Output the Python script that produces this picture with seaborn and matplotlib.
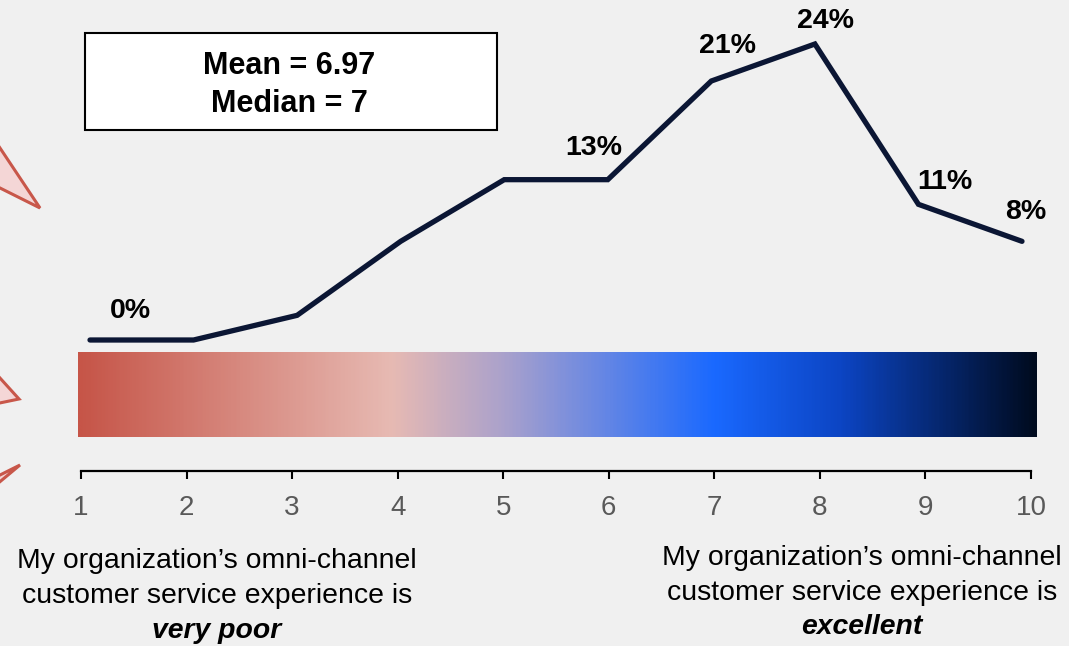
import numpy as np
import matplotlib
matplotlib.use("Agg")
import matplotlib.pyplot as plt
from matplotlib.colors import LinearSegmentedColormap
from matplotlib.patches import Polygon, Rectangle
import seaborn as sns

# Survey distribution: share of respondents per rating (1-10)
scores = [1, 2, 3, 4, 5, 6, 7, 8, 9, 10]
shares = [0, 0, 2, 8, 13, 13, 21, 24, 11, 8]
labelled_scores = [1, 6, 7, 8, 9, 10]
mean_value = 6.97
median_value = 7
tick_labels = [str(s) for s in scores]
low_caption = ["My organization\u2019s omni-channel", "customer service experience is", "very poor"]
high_caption = ["My organization\u2019s omni-channel", "customer service experience is", "excellent"]

sns.set_theme(style="white")
plt.rcParams["font.family"] = ["Liberation Sans", "DejaVu Sans"]
plt.rcParams["text.color"] = "black"

BG = "#F0F0F0"
LINE = "#0B1634"
W, H = 1069, 646

fig = plt.figure(figsize=(W / 100, H / 100), dpi=100, facecolor=BG)


def px_rect(left, top, right, bottom):
    return [left / W, 1 - bottom / H, (right - left) / W, (bottom - top) / H]


# ---- distribution line ----
ax_line = fig.add_axes(px_rect(90, 44, 1022, 340))
ax_line.set_facecolor("none")
sns.lineplot(x=scores, y=shares, ax=ax_line, color=LINE, linewidth=3.8,
             solid_capstyle="round", solid_joinstyle="miter", clip_on=False)
ax_line.set_xlim(1, 10)
ax_line.set_ylim(0, 24)
ax_line.axis("off")

# label offsets (points) relative to each labelled point
label_offsets = {1: (29, 16), 6: (-10, 18), 7: (11.5, 20), 8: (8, 11.5), 9: (19, 11), 10: (3, 16)}
for s in labelled_scores:
    v = shares[scores.index(s)]
    dx, dy = label_offsets[s]
    ax_line.annotate(f"{v}%", (s, v), xytext=(dx, dy), textcoords="offset points",
                     ha="center", va="baseline", fontsize=20.5, fontweight="bold",
                     color="black", annotation_clip=False)

# ---- rating scale with gradient bar ----
ax_scale = fig.add_axes(px_rect(81, 340, 1031, 471))
ax_scale.set_facecolor("none")
ax_scale.set_xlim(1, 10)
ax_scale.set_ylim(0, 131)

bar_x0, bar_x1 = 0.97, 10.05
stops = [(0.97, "#C65548"), (3.93, "#E7BAB3"), (4.97, "#ACA2CB"),
         (7.0, "#1A69FF"), (8.2, "#0C45C4"), (10.05, "#000B1F")]
cmap = LinearSegmentedColormap.from_list(
    "scale", [((p - bar_x0) / (bar_x1 - bar_x0), c) for p, c in stops])
grad = np.linspace(0, 1, 600).reshape(1, -1)
im = ax_scale.imshow(grad, cmap=cmap, aspect="auto", extent=(bar_x0, bar_x1, 34, 119),
                     interpolation="bilinear", zorder=1)
im.set_clip_on(False)
ax_scale.set_xlim(1, 10)
ax_scale.set_ylim(0, 131)

for side in ["top", "left", "right"]:
    ax_scale.spines[side].set_visible(False)
ax_scale.spines["bottom"].set_color("black")
ax_scale.spines["bottom"].set_linewidth(1.6)
ax_scale.set_xticks(scores)
ax_scale.set_xticklabels(tick_labels)
ax_scale.set_yticks([])
ax_scale.tick_params(axis="x", direction="out", length=6, width=1.5, color="black",
                     labelsize=20, labelcolor="#595959", pad=11, bottom=True)

# ---- summary box ----
fig.patches.append(Rectangle((85 / W, 1 - 130 / H), 412 / W, 97 / H, transform=fig.transFigure,
                             facecolor="white", edgecolor="black", linewidth=1.5, zorder=2))
fig.text(289 / W, 1 - 74 / H, f"Mean = {mean_value:.2f}", ha="center", va="baseline",
         fontsize=22, fontweight="bold", color="black", zorder=3)
fig.text(289 / W, 1 - 112 / H, f"Median = {median_value}", ha="center", va="baseline",
         fontsize=22, fontweight="bold", color="black", zorder=3)

# ---- decorative pointers on the left edge ----
for verts in ([(-10, 133), (40, 208), (-10, 183)],
              [(-10, 367), (19, 399), (-10, 405)],
              [(-10, 480), (20, 465), (-10, 490)]):
    fig.patches.append(Polygon([(x / W, 1 - y / H) for x, y in verts], closed=True,
                               transform=fig.transFigure, facecolor="#F4D6D6",
                               edgecolor="#C8574A", linewidth=2.2, zorder=2))

# ---- scale end captions ----
for caption, cx, baselines in ((low_caption, 217, (568, 603, 638)),
                               (high_caption, 862, (565, 600, 634))):
    for i, (line, by) in enumerate(zip(caption, baselines)):
        last = i == len(caption) - 1
        fig.text(cx / W, 1 - by / H, line, ha="center", va="baseline", fontsize=20.4,
                 fontweight="bold" if last else "normal",
                 fontstyle="italic" if last else "normal", color="black")

fig.savefig("out.png", dpi=100, facecolor=BG)
